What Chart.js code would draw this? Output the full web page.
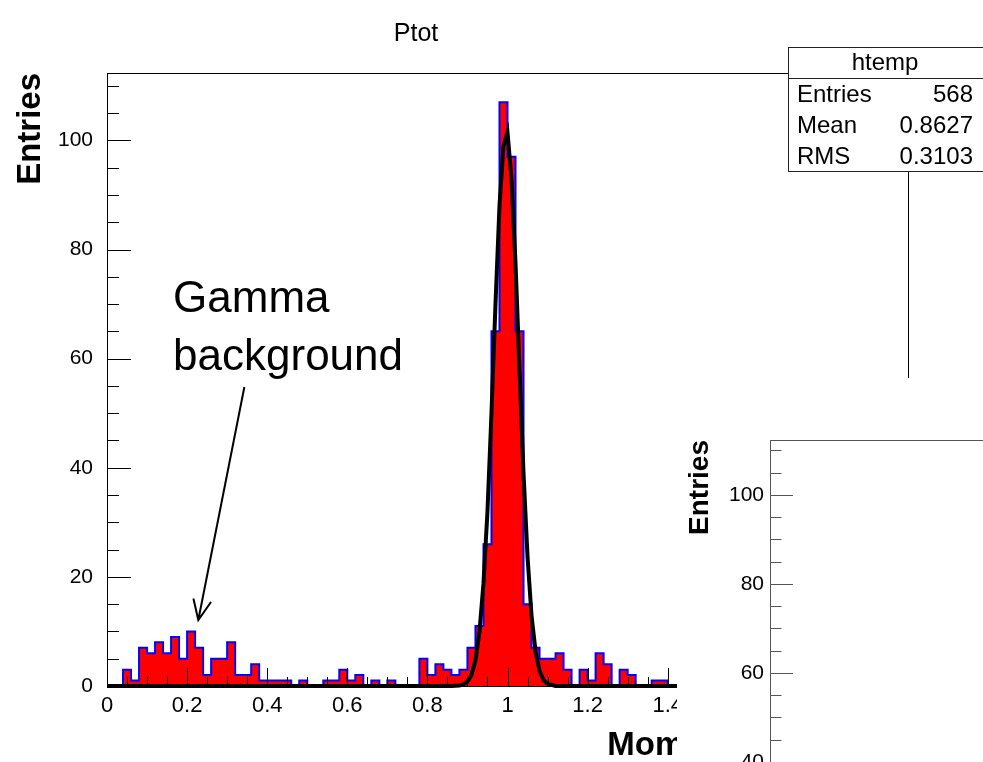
<!DOCTYPE html>
<html>
<head>
<meta charset="utf-8">
<title>Ptot</title>
<script src="https://cdn.jsdelivr.net/npm/chart.js@4.4.1/dist/chart.umd.min.js"></script>
<style>
  html, body { margin: 0; padding: 0; background: #fff; }
  #page { position: relative; width: 983px; height: 762px; overflow: hidden; }
  canvas { position: absolute; }
  #main { left: 0; top: 0; }
  #inset { left: 677px; top: 378px; }
</style>
</head>
<body>
<div id="page">
  <canvas id="main" width="983" height="762"></canvas>
  <canvas id="inset" width="900" height="640"></canvas>
</div>
<script>
// histogram Ptot, bins of 0.02 from 0 to 2 (bins above 1.4 are hidden in the picture)
const binWidth = 0.02;
const counts = [
  0, 0, 3, 1, 7, 6, 8, 6, 9, 5,
  10, 7, 2, 5, 5, 8, 2, 2, 4, 1,
  1, 1, 1, 0, 1, 0, 0, 1, 1, 3,
  1, 2, 0, 1, 0, 1, 0, 0, 0, 5,
  2, 4, 3, 2, 3, 7, 11, 26, 65, 107,
  97, 65, 15, 7, 5, 5, 6, 3, 0, 3,
  1, 6, 4, 0, 3, 2, 0, 0, 1, 1,
  0, 0, 0, 0, 0, 0, 0, 0, 0, 0,
  0, 0, 0, 0, 0, 0, 0, 0, 0, 0,
  0, 0, 0, 0, 0, 0, 0, 0, 0, 0
];

// gaussian fit curve
const fitX = [0, 0.86, 0.88, 0.89, 0.9, 0.91, 0.92, 0.93, 0.94, 0.95, 0.96, 0.97, 0.98, 0.99,
  1, 1.01, 1.02, 1.03, 1.04, 1.05, 1.06, 1.07, 1.08, 1.09, 1.1, 1.12, 2];
const fitY = [0, 0, 0.1, 0.3, 0.8, 2, 4.7, 9.9, 18.8, 32, 50, 70, 88, 99,
  101.5, 93, 77.5, 58, 39, 23.7, 12.9, 6.4, 2.8, 1.1, 0.4, 0, 0];

const xTicks = [0, 0.2, 0.4, 0.6, 0.8, 1, 1.2, 1.4, 1.6, 1.8, 2];
const xTickLabels = ['0', '0.2', '0.4', '0.6', '0.8', '1', '1.2', '1.4', '1.6', '1.8', '2'];
const yTicks = [0, 20, 40, 60, 80, 100];
const yTickLabels = ['0', '20', '40', '60', '80', '100'];

const statTitle = 'htemp';
const statNames = ['Entries', 'Mean', 'RMS'];
const statValues = ['568', '0.8627', '0.3103'];
const noteLines = ['Gamma', 'background'];

const FONT = "'Liberation Sans', Arial, Helvetica, sans-serif";
const Y_MAX = 112.35;

const histPoints = counts.map((c, i) => ({ x: i * binWidth, y: c }));
histPoints.push({ x: counts.length * binWidth, y: 0 });
const fitPoints = fitX.map((v, i) => ({ x: v, y: fitY[i] }));

// ROOT style ticks drawn inside the frame, plus the frame box
const innerTicks = {
  id: 'innerTicks',
  afterDatasetsDraw(chart, args, o) {
    const { ctx, chartArea: a, scales: { x, y } } = chart;
    ctx.save();
    ctx.strokeStyle = o.color;
    ctx.lineWidth = 1;
    ctx.beginPath();
    for (let i = 0; i * 5 <= y.max; i++) {
      const py = Math.round(y.getPixelForValue(i * 5)) + 0.5;
      const len = i % 4 === 0 ? o.yLen : o.yLen / 2;
      ctx.moveTo(a.left, py);
      ctx.lineTo(a.left + len, py);
    }
    for (let i = 0; i * 0.05 <= x.max + 1e-9; i++) {
      const px = Math.round(x.getPixelForValue(i * 0.05)) + 0.5;
      const len = i % 4 === 0 ? o.xLen : o.xLen / 2;
      ctx.moveTo(px, a.bottom);
      ctx.lineTo(px, a.bottom - len);
    }
    ctx.stroke();
    ctx.strokeRect(Math.round(a.left) + 0.5, Math.round(a.top) + 0.5,
      Math.round(a.right - a.left), Math.round(a.bottom - a.top));
    ctx.restore();
  }
};

const whiteBg = {
  id: 'whiteBg',
  beforeDraw(chart) {
    const { ctx, width, height } = chart;
    ctx.save();
    ctx.fillStyle = '#fff';
    ctx.fillRect(0, 0, width, height);
    ctx.restore();
  }
};

// title, stats box and the hand drawn note
const decorations = {
  id: 'decorations',
  afterDraw(chart) {
    const { ctx, scales: { x, y } } = chart;
    ctx.save();
    ctx.fillStyle = '#000';
    ctx.textBaseline = 'alphabetic';

    ctx.font = `25px ${FONT}`;
    ctx.textAlign = 'center';
    ctx.fillText('Ptot', 416, 41);

    // stats box
    const bx = 788, by = 47, bw = 200, rowH = 31;
    ctx.fillStyle = '#fff';
    ctx.fillRect(bx, by, bw, rowH * 4);
    ctx.strokeStyle = '#222';
    ctx.lineWidth = 1;
    ctx.strokeRect(bx + 0.5, by + 0.5, bw, rowH * 4);
    ctx.beginPath();
    ctx.moveTo(bx, by + rowH + 0.5);
    ctx.lineTo(bx + bw, by + rowH + 0.5);
    ctx.stroke();
    ctx.fillStyle = '#000';
    ctx.font = `24px ${FONT}`;
    ctx.fillText(statTitle, 885, by + 23);
    statNames.forEach((n, i) => {
      const ty = by + rowH * (i + 1) + 24;
      ctx.textAlign = 'left';
      ctx.fillText(n, 797, ty);
      ctx.textAlign = 'right';
      ctx.fillText(statValues[i], 973, ty);
    });

    // note with arrow, anchored on the data scales
    ctx.font = `44px ${FONT}`;
    ctx.textAlign = 'left';
    const nx = x.getPixelForValue(0.165);
    ctx.fillText(noteLines[0], nx, y.getPixelForValue(68.5));
    ctx.fillText(noteLines[1], nx, y.getPixelForValue(58));

    const tx = x.getPixelForValue(0.228), ty = y.getPixelForValue(12.1);
    const sx = x.getPixelForValue(0.343), sy = y.getPixelForValue(54.8);
    const ang = Math.atan2(ty - sy, tx - sx);
    ctx.strokeStyle = '#000';
    ctx.lineWidth = 2;
    ctx.beginPath();
    ctx.moveTo(sx, sy);
    ctx.lineTo(tx, ty);
    ctx.moveTo(tx - 22 * Math.cos(ang - 0.42), ty - 22 * Math.sin(ang - 0.42));
    ctx.lineTo(tx, ty);
    ctx.lineTo(tx - 22 * Math.cos(ang + 0.42), ty - 22 * Math.sin(ang + 0.42));
    ctx.stroke();
    ctx.restore();
  }
};

const makePad = (canvas, pad) => new Chart(canvas, {
  type: 'line',
  data: {
    datasets: [
      {
        label: 'fit',
        data: fitPoints,
        order: 0,
        borderColor: '#000',
        borderWidth: pad.fitWidth,
        pointRadius: 0,
        fill: false,
        tension: 0,
        clip: false
      },
      {
        label: 'Ptot',
        data: histPoints,
        order: 1,
        stepped: true,
        borderColor: '#0000ff',
        borderWidth: 2,
        backgroundColor: '#ff0000',
        fill: 'origin',
        pointRadius: 0
      }
    ]
  },
  options: {
    responsive: false,
    animation: false,
    events: [],
    layout: { padding: { top: pad.top, right: pad.right, left: 0, bottom: 0 } },
    plugins: {
      legend: { display: false },
      tooltip: { enabled: false },
      innerTicks: { color: pad.frameColor, xLen: pad.xLen, yLen: pad.yLen }
    },
    scales: {
      x: {
        type: 'linear',
        min: 0,
        max: 2,
        afterBuildTicks: (s) => { s.ticks = xTicks.map((v) => ({ value: v })); },
        afterFit: (s) => { s.height = pad.xHeight; },
        grid: { display: false, drawTicks: false },
        border: { display: false },
        ticks: {
          autoSkip: false,
          maxRotation: 0,
          padding: 7,
          color: '#000',
          font: { family: FONT, size: 22 },
          callback: (v, i) => xTickLabels[i]
        },
        title: {
          display: true,
          text: 'Momentum [GeV/c]',
          align: 'end',
          color: '#000',
          font: { family: FONT, size: 33, weight: 'bold', lineHeight: 1 },
          padding: { top: 0, bottom: 0 }
        }
      },
      y: {
        min: 0,
        max: Y_MAX,
        afterBuildTicks: (s) => { s.ticks = yTicks.map((v) => ({ value: v })); },
        afterFit: (s) => { s.width = pad.yWidth; },
        grid: { display: false, drawTicks: false },
        border: { display: false },
        ticks: {
          padding: pad.yPad,
          color: '#000',
          font: { family: FONT, size: 21 },
          callback: (v, i) => yTickLabels[i]
        },
        title: {
          display: true,
          text: 'Entries',
          align: 'end',
          color: '#000',
          font: { family: FONT, size: pad.yTitleSize, weight: 'bold' },
          padding: { top: pad.yTitlePad, bottom: 0 }
        }
      }
    }
  },
  plugins: pad.plugins
});

makePad(document.getElementById('main'), {
  top: 73, right: 75, xHeight: 76, yWidth: 107, yPad: 14,
  xLen: 18, yLen: 24, fitWidth: 4, frameColor: '#000',
  yTitleSize: 33, yTitlePad: 11,
  plugins: [innerTicks, decorations]
});

makePad(document.getElementById('inset'), {
  top: 62, right: 50, xHeight: 78, yWidth: 93, yPad: 6,
  xLen: 17, yLen: 23, fitWidth: 3, frameColor: '#555',
  yTitleSize: 28, yTitlePad: 6,
  plugins: [whiteBg, innerTicks]
});
</script>
</body>
</html>
